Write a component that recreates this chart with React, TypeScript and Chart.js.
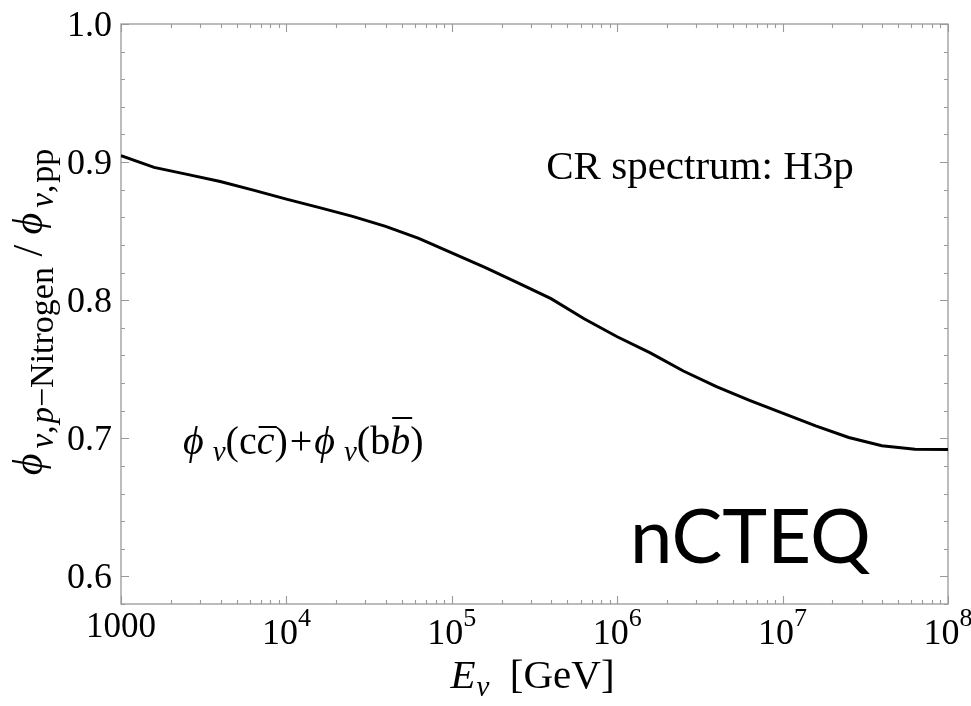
import React, { useEffect, useRef } from 'react';
import { Chart, registerables } from 'chart.js';

Chart.register(...registerables);

// Neutrino energy grid (GeV) and the flux ratio p-Nitrogen / pp
const ENERGY_GEV = [
  1000, 1585, 2512, 3981, 6310,
  10000, 15850, 25120, 39810, 63100,
  100000, 158500, 251200, 398100, 631000,
  1000000, 1585000, 2512000, 3981000, 6310000,
  10000000, 15850000, 25120000, 39810000, 63100000,
  100000000,
];
const RATIO = [
  0.9046, 0.8962, 0.8911, 0.886, 0.8797,
  0.8732, 0.867, 0.8607, 0.8535, 0.8448,
  0.8343, 0.8238, 0.8126, 0.8011, 0.7866,
  0.7735, 0.7618, 0.7487, 0.7374, 0.7275,
  0.7182, 0.709, 0.7006, 0.6946, 0.692,
  0.6919,
];

// Axis ranges and tick labels
const X_MIN = 1000;
const X_MAX = 1e8;
const Y_MIN = 0.58;
const Y_MAX = 1.0;
const X_DECADES = [1e3, 1e4, 1e5, 1e6, 1e7, 1e8];
const X_TICK_LABELS = [
  { base: '1000', exp: '' },
  { base: '10', exp: '4' },
  { base: '10', exp: '5' },
  { base: '10', exp: '6' },
  { base: '10', exp: '7' },
  { base: '10', exp: '8' },
];
const Y_MAJOR = [0.6, 0.7, 0.8, 0.9, 1.0];
const Y_TICK_LABELS = ['0.6', '0.7', '0.8', '0.9', '1.0'];
const Y_MINOR_STEP = 0.02;

const SPECTRUM_TEXT = 'CR spectrum: H3p';
const GROUP_TEXT = 'nCTEQ';

const SERIF = "'Liberation Serif', 'Times New Roman', serif";
const rom = (px: number) => `${px}px ${SERIF}`;
const ita = (px: number) => `italic ${px}px ${SERIF}`;

type Run = { t: string; f: string; dy?: number; gap?: number; over?: number };

function runsWidth(ctx: CanvasRenderingContext2D, runs: Run[]) {
  let w = 0;
  for (const r of runs) {
    ctx.font = r.f;
    w += ctx.measureText(r.t).width + (r.gap || 0);
  }
  return w;
}

function drawRuns(ctx: CanvasRenderingContext2D, runs: Run[], x: number, y: number) {
  let cx = x;
  for (const r of runs) {
    ctx.font = r.f;
    const w = ctx.measureText(r.t).width;
    ctx.fillText(r.t, cx, y + (r.dy || 0));
    if (r.over) {
      ctx.save();
      ctx.lineWidth = 2;
      ctx.beginPath();
      ctx.moveTo(cx + 2, y - r.over);
      ctx.lineTo(cx + w + 2, y - r.over);
      ctx.stroke();
      ctx.restore();
    }
    cx += w + (r.gap || 0);
  }
}

const framePlugin = {
  id: 'frameTicks',
  beforeDatasetsDraw(chart: any) {
    const { ctx, chartArea: a, scales } = chart;
    const x = scales.x;
    const y = scales.y;
    ctx.save();
    ctx.strokeStyle = '#999999';
    ctx.lineWidth = 1.3;
    ctx.strokeRect(a.left, a.top, a.right - a.left, a.bottom - a.top);
    ctx.lineWidth = 1.1;
    ctx.beginPath();
    // logarithmic ticks on bottom and top edges
    for (let i = 0; i < X_DECADES.length; i++) {
      const d = X_DECADES[i];
      for (let m = 1; m <= 9; m++) {
        const v = m * d;
        if (v > X_MAX * 1.0001) break;
        const px = Math.round(x.getPixelForValue(v)) + 0.5;
        const len = m === 1 ? 8 : 4;
        ctx.moveTo(px, a.bottom);
        ctx.lineTo(px, a.bottom - len);
        ctx.moveTo(px, a.top);
        ctx.lineTo(px, a.top + len);
      }
    }
    // linear ticks on left and right edges
    const n = Math.round((Y_MAX - Y_MIN) / Y_MINOR_STEP);
    for (let k = 0; k <= n; k++) {
      const v = Y_MIN + k * Y_MINOR_STEP;
      const major = Y_MAJOR.some((m) => Math.abs(m - v) < 1e-6);
      const py = Math.round(y.getPixelForValue(v)) + 0.5;
      const len = major ? 8 : 4;
      ctx.moveTo(a.left, py);
      ctx.lineTo(a.left + len, py);
      ctx.moveTo(a.right, py);
      ctx.lineTo(a.right - len, py);
    }
    ctx.stroke();
    ctx.restore();
  },
  afterDraw(chart: any) {
    const { ctx, chartArea: a, scales } = chart;
    const x = scales.x;
    const y = scales.y;
    ctx.save();
    ctx.fillStyle = '#000';
    ctx.strokeStyle = '#000';
    ctx.textBaseline = 'alphabetic';

    // y tick labels
    ctx.font = rom(36);
    ctx.textAlign = 'right';
    Y_MAJOR.forEach((v, i) => {
      ctx.fillText(Y_TICK_LABELS[i], a.left - 9, y.getPixelForValue(v) + 12);
    });

    // x tick labels
    ctx.textAlign = 'left';
    X_DECADES.forEach((v, i) => {
      const lab = X_TICK_LABELS[i];
      const px = x.getPixelForValue(v);
      if (!lab.exp) {
        const runs: Run[] = [{ t: lab.base, f: rom(35) }];
        drawRuns(ctx, runs, px - runsWidth(ctx, runs) / 2, a.bottom + 33);
      } else {
        const runs: Run[] = [
          { t: lab.base, f: rom(36) },
          { t: lab.exp, f: rom(26), dy: -18 },
        ];
        drawRuns(ctx, runs, px - runsWidth(ctx, runs) / 2, a.bottom + 40);
      }
    });

    // x axis title
    const xTitle: Run[] = [
      { t: 'E', f: ita(41), gap: 1 },
      { t: 'ν', f: ita(29), dy: 8 },
      { t: '  [GeV]', f: rom(41) },
    ];
    drawRuns(ctx, xTitle, (a.left + a.right) / 2 - runsWidth(ctx, xTitle) / 2 - 2, 688);

    // y axis title, rotated
    const yTitle: Run[] = [
      { t: 'ϕ', f: ita(42), gap: 5 },
      { t: 'ν', f: ita(33), dy: 11 },
      { t: ',', f: rom(33), dy: 11, gap: 2 },
      { t: 'p', f: ita(33), dy: 11 },
      { t: '−Nitrogen', f: rom(34), dy: 11 },
      { t: ' / ', f: rom(42) },
      { t: 'ϕ', f: ita(42), gap: 5 },
      { t: 'ν', f: ita(33), dy: 11 },
      { t: ',', f: rom(33), dy: 11, gap: 2 },
      { t: 'pp', f: rom(34), dy: 11 },
    ];
    ctx.save();
    ctx.translate(42, 312);
    ctx.rotate(-Math.PI / 2);
    drawRuns(ctx, yTitle, -runsWidth(ctx, yTitle) / 2, 0);
    ctx.restore();

    // spectrum label
    ctx.font = rom(41);
    ctx.textAlign = 'center';
    ctx.fillText(SPECTRUM_TEXT, 700, 179);

    // heavy-flavour contribution label
    ctx.textAlign = 'left';
    const note: Run[] = [
      { t: 'ϕ', f: ita(40), gap: 9 },
      { t: 'ν', f: ita(29), dy: 7 },
      { t: '(c', f: rom(40) },
      { t: 'c', f: ita(40), over: 27 },
      { t: ')', f: rom(40), gap: 2 },
      { t: '+', f: rom(40), gap: 2 },
      { t: 'ϕ', f: ita(40), gap: 9 },
      { t: 'ν', f: ita(29), dy: 7 },
      { t: '(b', f: rom(40) },
      { t: 'b', f: ita(40), over: 36 },
      { t: ')', f: rom(40) },
    ];
    drawRuns(ctx, note, 183, 454);

    // collaboration mark
    ctx.font = `400 76px Lato, 'Open Sans', sans-serif`;
    ctx.fillText(GROUP_TEXT, 630, 563);

    ctx.restore();
  },
};

export default function App() {
  const canvasRef = useRef<HTMLCanvasElement | null>(null);

  useEffect(() => {
    const canvas = canvasRef.current;
    if (!canvas) return;
    const chart = new Chart(canvas, {
      type: 'line',
      data: {
        datasets: [
          {
            data: ENERGY_GEV.map((e, i) => ({ x: e, y: RATIO[i] })),
            borderColor: '#000000',
            borderWidth: 3,
            pointRadius: 0,
            tension: 0,
            fill: false,
          },
        ],
      },
      options: {
        responsive: false,
        animation: false,
        events: [],
        layout: { padding: { top: 24, right: 23, left: 0, bottom: 0 } },
        plugins: { legend: { display: false }, tooltip: { enabled: false } },
        scales: {
          x: {
            type: 'logarithmic',
            min: X_MIN,
            max: X_MAX,
            grid: { display: false },
            border: { display: false },
            ticks: { display: false },
            afterFit: (s: any) => {
              s.height = 102;
            },
          },
          y: {
            type: 'linear',
            min: Y_MIN,
            max: Y_MAX,
            grid: { display: false },
            border: { display: false },
            ticks: { display: false },
            afterFit: (s: any) => {
              s.width = 121;
            },
          },
        },
      },
      plugins: [framePlugin],
    });
    return () => chart.destroy();
  }, []);

  return (
    <div style={{ position: 'absolute', left: 0, top: 0, width: 971, height: 706, background: '#fff' }}>
      <canvas ref={canvasRef} width={971} height={706} style={{ display: 'block' }} />
    </div>
  );
}
